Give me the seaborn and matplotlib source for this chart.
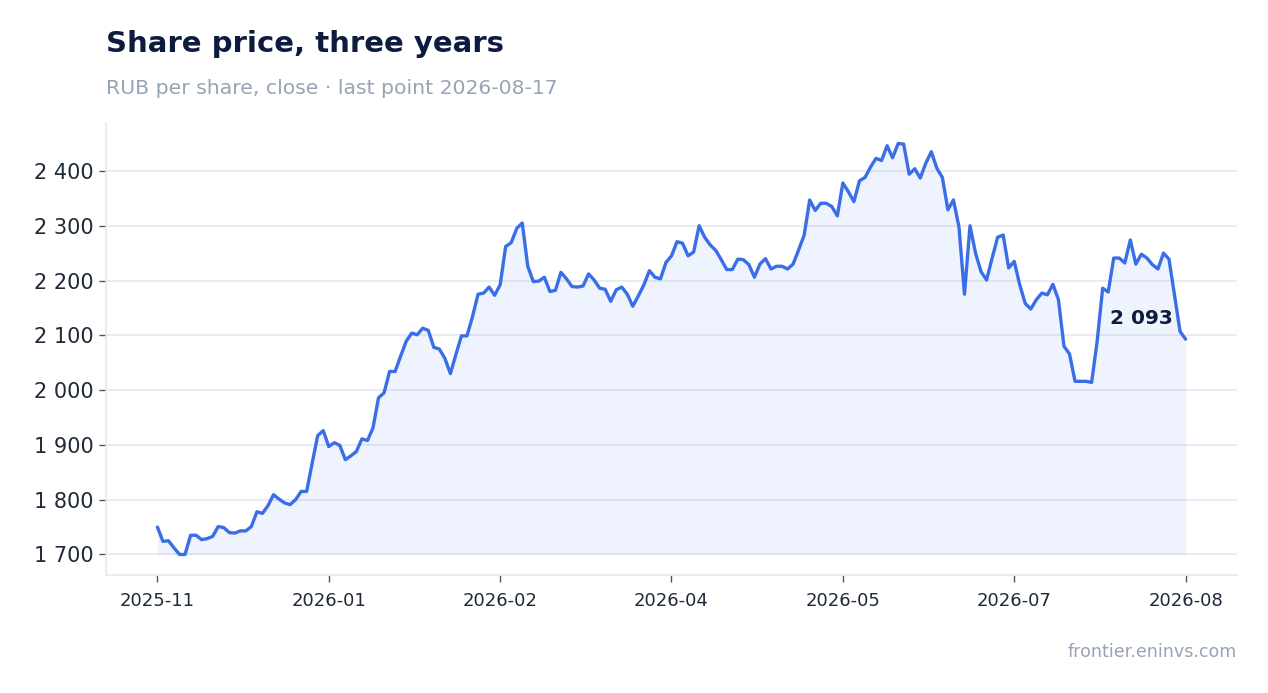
import numpy as np
import pandas as pd
import matplotlib
matplotlib.use("Agg")
import matplotlib.pyplot as plt
import seaborn as sns

# ---- data ----
close = [
    1750, 1724, 1725, 1712, 1700, 1700, 1735, 1735, 1727, 1729,
    1733, 1751, 1749, 1740, 1739, 1743, 1743, 1751, 1778, 1775,
    1789, 1809, 1801, 1794, 1791, 1800, 1815, 1815, 1867, 1917,
    1926, 1897, 1904, 1899, 1873, 1880, 1888, 1911, 1908, 1931,
    1986, 1995, 2034, 2034, 2062, 2089, 2104, 2101, 2113, 2109,
    2078, 2075, 2058, 2030, 2065, 2099, 2099, 2134, 2175, 2177,
    2188, 2173, 2192, 2262, 2269, 2295, 2305, 2226, 2198, 2199,
    2206, 2180, 2182, 2215, 2203, 2189, 2188, 2190, 2212, 2201,
    2186, 2184, 2162, 2183, 2188, 2175, 2153, 2172, 2192, 2218,
    2206, 2203, 2233, 2245, 2271, 2268, 2245, 2252, 2300, 2279,
    2265, 2255, 2238, 2220, 2220, 2239, 2238, 2229, 2206, 2230,
    2240, 2221, 2226, 2226, 2221, 2230, 2256, 2283, 2347, 2328,
    2341, 2341, 2335, 2318, 2378, 2362, 2344, 2382, 2388, 2407,
    2423, 2419, 2446, 2424, 2450, 2449, 2394, 2404, 2387, 2414,
    2435, 2405, 2388, 2329, 2347, 2298, 2175, 2300, 2250, 2216,
    2201, 2241, 2279, 2283, 2223, 2235, 2192, 2158, 2148, 2165,
    2177, 2174, 2193, 2165, 2080, 2066, 2016, 2016, 2016, 2014,
    2089, 2186, 2179, 2241, 2241, 2232, 2274, 2230, 2248, 2241,
    2229, 2221, 2250, 2239, 2173, 2107, 2093,
]
tick_labels = ["2025-11", "2026-01", "2026-02", "2026-04", "2026-05", "2026-07", "2026-08"]
tick_step = 31
last_date = "2026-08-17"
title = "Share price, three years"
subtitle = f"RUB per share, close \u00b7 last point {last_date}"
source = "frontier.eninvs.com"

df = pd.DataFrame({"idx": np.arange(len(close)), "close": close})

# ---- style ----
sns.set_theme(style="white")
plt.rcParams["font.family"] = ["DejaVu Sans"]

LINE = "#3a6ee8"
NAVY = "#0d1b3e"
GREY = "#97a3b6"
GRID = "#e3e7ef"
TICK = "#1f2937"

fig = plt.figure(figsize=(12.68, 6.93), dpi=100)
ax = fig.add_axes([106 / 1268, 1 - 575 / 693, (1237 - 106) / 1268, (575 - 123) / 693])

ax.fill_between(df["idx"], df["close"], min(close), color=LINE, alpha=0.08, linewidth=0)
sns.lineplot(data=df, x="idx", y="close", ax=ax, color=LINE, linewidth=2.4)

ax.margins(x=0.05, y=0.05)
ticks = [i * tick_step for i in range(len(tick_labels))]
ax.set_xticks(ticks)
ax.set_xticklabels(tick_labels)
ax.set_yticks([1700, 1800, 1900, 2000, 2100, 2200, 2300, 2400])
ax.yaxis.set_major_formatter(matplotlib.ticker.FuncFormatter(lambda v, p: f"{int(v):,}".replace(",", " ")))
ax.set_xlabel("")
ax.set_ylabel("")

ax.grid(axis="y", color=GRID, linewidth=1.1)
ax.grid(axis="x", visible=False)
for s in ["top", "right"]:
    ax.spines[s].set_visible(False)
for s in ["left", "bottom"]:
    ax.spines[s].set_color(GRID)
    ax.spines[s].set_linewidth(1.1)

ax.tick_params(axis="y", which="major", left=True, length=5, width=1, color="#4b5563",
               labelsize=15, labelcolor=TICK, pad=4)
ax.tick_params(axis="x", which="major", bottom=True, length=5, width=1, color="#4b5563",
               labelsize=13, labelcolor=TICK, pad=7)

# last value label
last_i = len(close) - 1
ax.annotate(f"{close[-1]:,}".replace(",", " "), xy=(last_i, close[-1]),
            xytext=(-13, 21), textcoords="offset pixels", ha="right", va="center",
            fontsize=14.5, fontweight="bold", color=NAVY)

fig.text(106 / 1268, 1 - 44 / 693, title, fontsize=21, fontweight="bold", color=NAVY,
         ha="left", va="center")
fig.text(106 / 1268, 1 - 88 / 693, subtitle, fontsize=14.7, color=GREY, ha="left", va="center")
fig.text(1237 / 1268, 1 - 652 / 693, source, fontsize=12.6, color=GREY, ha="right", va="center")

fig.savefig("out.png", dpi=100, facecolor="white")
